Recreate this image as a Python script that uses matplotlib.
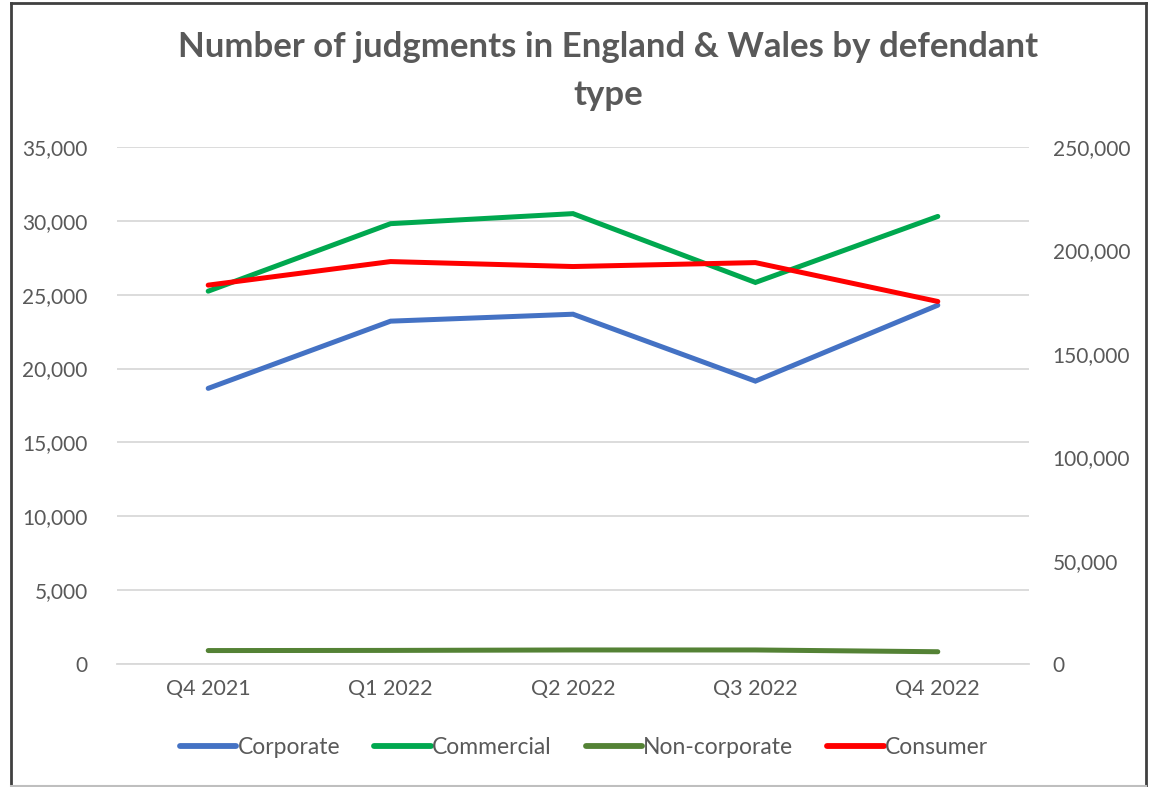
import matplotlib
matplotlib.use("Agg")
import matplotlib.pyplot as plt
from matplotlib.lines import Line2D
from matplotlib.ticker import FuncFormatter

quarters = ["Q4 2021", "Q1 2022", "Q2 2022", "Q3 2022", "Q4 2022"]
corporate = [18660, 23210, 23680, 19150, 24290]
commercial = [25240, 29810, 30490, 25830, 30300]
non_corporate = [910, 920, 950, 950, 830]
consumer = [183200, 194600, 192200, 194100, 175300]

plt.rcParams['font.family'] = ['Lato', 'DejaVu Sans']

W, H = 1153, 787
fig = plt.figure(figsize=(W / 100, H / 100), dpi=100)
fig.patch.set_facecolor("white")

ax = fig.add_axes([117 / W, 1 - 664 / H, (1029 - 117) / W, (664 - 147) / H])
ax2 = ax.twinx()

x = list(range(len(quarters)))
lw = 3.6
l1, = ax.plot(x, corporate, color="#4472C4", lw=lw, solid_capstyle="round", solid_joinstyle="miter", label="Corporate", zorder=3)
l2, = ax.plot(x, commercial, color="#00A84F", lw=lw, solid_capstyle="round", solid_joinstyle="miter", label="Commercial", zorder=3)
l3, = ax.plot(x, non_corporate, color="#548235", lw=lw, solid_capstyle="round", label="Non-corporate", zorder=3)
l4, = ax2.plot(x, consumer, color="#FF0000", lw=lw, solid_capstyle="round", solid_joinstyle="miter", label="Consumer", zorder=3)

ax.set_xlim(-0.5, len(quarters) - 0.5)
ax.set_ylim(0, 35000)
ax.set_yticks(range(0, 35001, 5000))
ax2.set_ylim(0, 250000)
ax2.set_yticks(range(0, 250001, 50000))

fmt = FuncFormatter(lambda v, p: f"{int(v):,}")
ax.yaxis.set_major_formatter(fmt)
ax2.yaxis.set_major_formatter(fmt)
ax.set_xticks(x)
ax.set_xticklabels(quarters)

ax.grid(axis="y", color="#D9D9D9", lw=1.3)
ax.set_axisbelow(True)
for a in (ax, ax2):
    for s in a.spines.values():
        s.set_visible(False)
    a.tick_params(length=0, labelsize=15, labelcolor="#595959")
ax.spines["bottom"].set_visible(True)
ax.spines["bottom"].set_color("#D9D9D9")
ax.spines["bottom"].set_linewidth(1.3)
ax.tick_params(axis="y", pad=21)
ax.tick_params(axis="x", pad=11, labelsize=15.5)
ax2.tick_params(axis="y", pad=17)

fig.text(608 / W, 1 - 47 / H, "Number of judgments in England & Wales by defendant",
         ha="center", va="center", fontsize=25, fontweight="bold", color="#595959")
fig.text(608 / W, 1 - 95 / H, "type",
         ha="center", va="center", fontsize=25, fontweight="bold", color="#595959")

leg = fig.legend(handles=[l1, l2, l3, l4], loc="center", bbox_to_anchor=(584 / W, 1 - 748 / H),
                 ncol=4, frameon=False, fontsize=16.5, handlelength=2.45, handletextpad=0.05,
                 columnspacing=1.5)
for t in leg.get_texts():
    t.set_color("#595959")
for h in leg.legend_handles:
    h.set_linewidth(4.2)

# outer border
bc = "#404040"
fig.add_artist(Line2D([11 / W, 11 / W], [0, 1 - 3 / H], transform=fig.transFigure, color=bc, lw=2))
fig.add_artist(Line2D([11 / W, 1146 / W], [1 - 3 / H, 1 - 3 / H], transform=fig.transFigure, color=bc, lw=2))
fig.add_artist(Line2D([1146 / W, 1146 / W], [0, 1 - 3 / H], transform=fig.transFigure, color=bc, lw=2))
fig.add_artist(Line2D([11 / W, 1146 / W], [1 - 786 / H, 1 - 786 / H], transform=fig.transFigure, color="#BFBFBF", lw=1.5))

fig.savefig("out.png", dpi=100, facecolor="white")
